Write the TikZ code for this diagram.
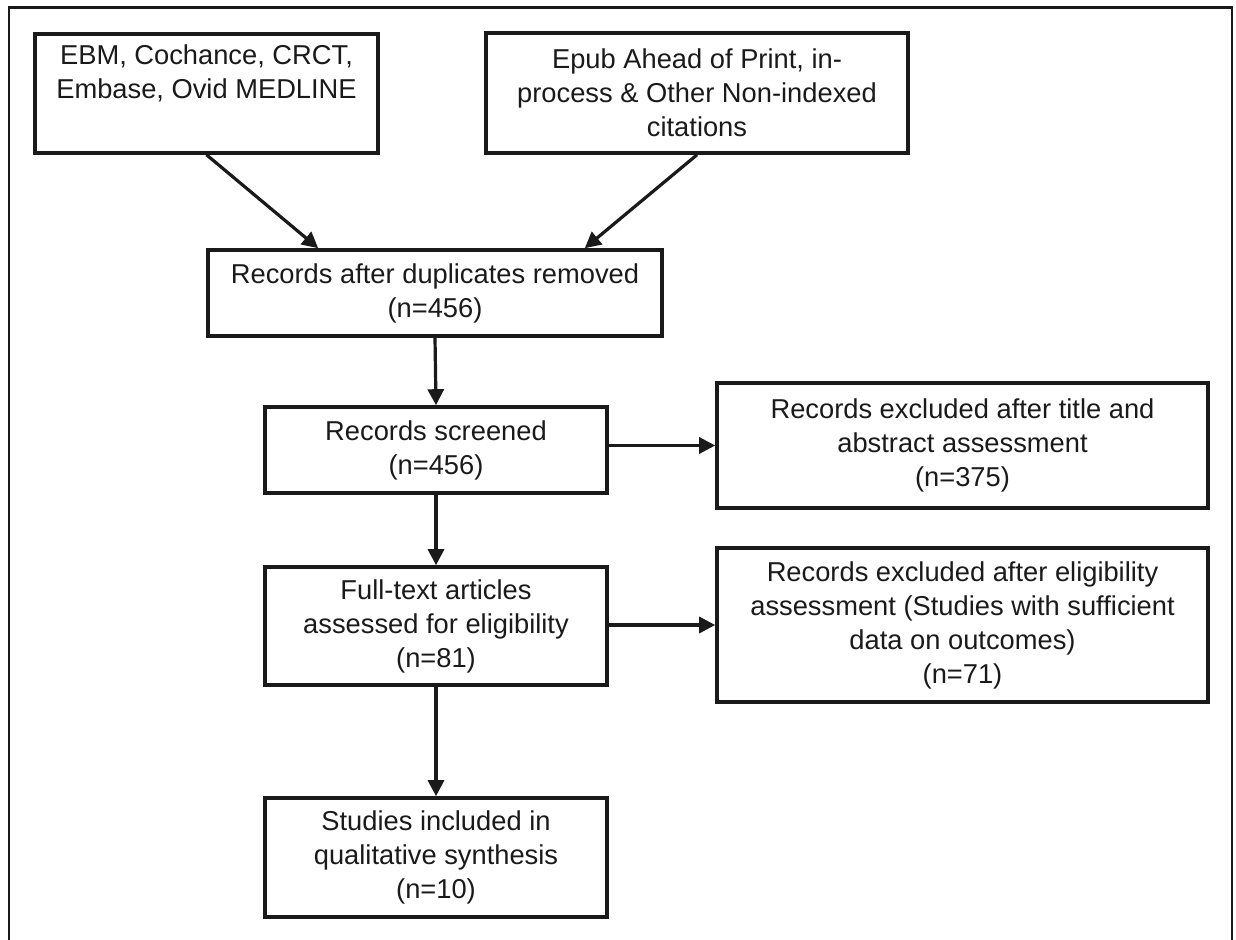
\documentclass[tikz,border=0pt]{standalone}
\usepackage{fontspec}
\setmainfont{Liberation Sans}
\usepackage{tikz}
\usetikzlibrary{positioning, arrows.meta}

\definecolor{ink}{HTML}{1A1A1A}

\begin{document}
\begin{tikzpicture}[
    x=0.5pt, y=-0.5pt,
    box/.style={
        rectangle,
        draw=ink,
        line width=1.8pt,
        align=center,
        text=ink,
        inner sep=0pt,
        font=\fontsize{13.65pt}{17pt}\selectfont
    },
    edge/.style={draw=ink, line width=1.6pt, -{Triangle[length=8pt, width=8pt]}}
]
\useasboundingbox (0,0) rectangle (1236,940);

% outer frame, open at the bottom
\draw[draw=ink, line width=1.1pt] (9,940) -- (9,7.5) -- (1232,7.5) -- (1232,940);

\node[box, minimum width=171.5pt, minimum height=59.5pt] (src1) at (206.5,93.5)
    {EBM, Cochance, CRCT,\\ Embase, Ovid MEDLINE\\ \strut};
\node[box, minimum width=211pt, minimum height=60pt] (src2) at (697,93)
    {Epub Ahead of Print, in-\\ process \& Other Non-indexed\\ citations};

\node[box, minimum width=227pt, minimum height=43pt] (dup) at (435,293)
    {Records after duplicates removed\\ (n=456)};
\node[box, minimum width=171pt, minimum height=43pt] (scr) at (436,450)
    {Records screened\\ (n=456)};
\node[box, minimum width=171pt, minimum height=59pt] (full) at (436,626)
    {Full-text articles\\ assessed for eligibility\\ (n=81)};
\node[box, minimum width=171pt, minimum height=59.5pt] (inc) at (436,857.5)
    {Studies included in\\ qualitative synthesis\\ (n=10)};

\node[box, minimum width=245.5pt, minimum height=62.5pt] (exc1) at (962.5,445.5)
    {Records excluded after title and\\ abstract assessment\\ (n=375)};
\node[box, minimum width=245.5pt, minimum height=77pt] (exc2) at (962.5,625)
    {Records excluded after eligibility\\ assessment (Studies with sufficient\\ data on outcomes)\\ (n=71)};

\draw[edge] (src1.south) -- ([xshift=56pt]dup.north west);
\draw[edge] (src2.south) -- ([xshift=-39.5pt]dup.north east);

\draw[edge] (dup.south) -- (scr.north);
\draw[edge] (scr.south) -- (full.north);
\draw[edge] (full.south) -- (inc.north);

\draw[edge] (scr.east |- exc1.west) -- (exc1.west);
\draw[edge] (full.east |- exc2.west) -- (exc2.west);

\end{tikzpicture}
\end{document}
